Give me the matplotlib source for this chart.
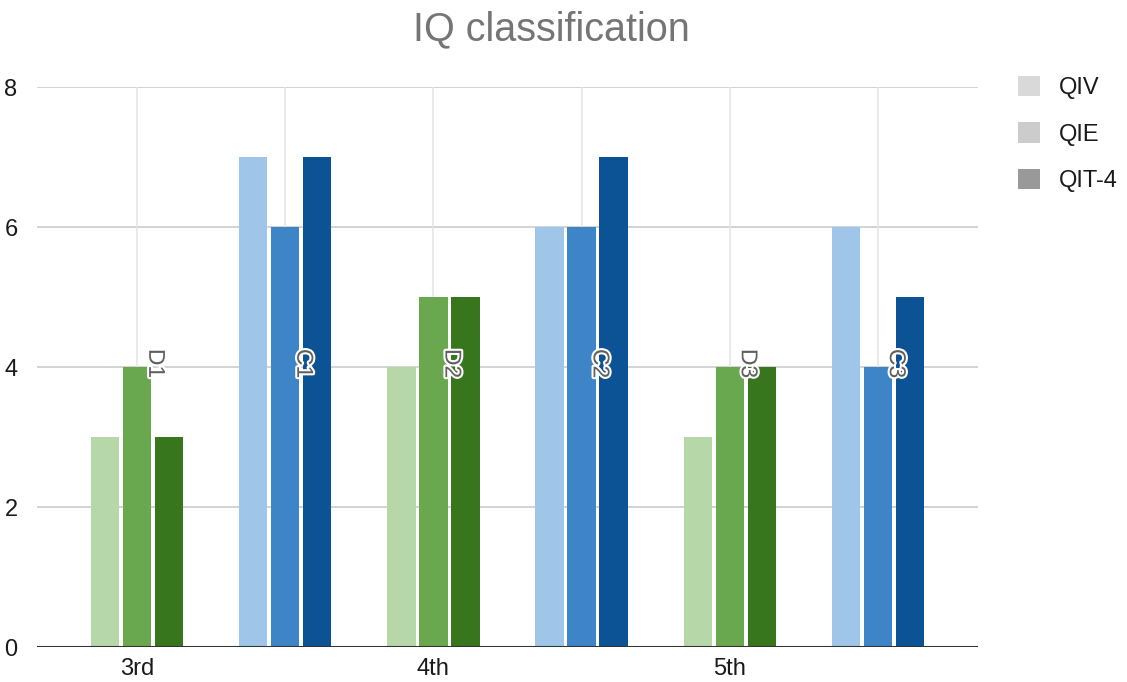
import matplotlib
matplotlib.use("Agg")
import matplotlib.pyplot as plt
import matplotlib.patheffects as pe
from matplotlib.patches import Patch
import numpy as np

plt.rcParams['font.family'] = ['Liberation Sans', 'DejaVu Sans']

groups = ["D1", "C1", "D2", "C2", "D3", "C3"]
series = ["QIV", "QIE", "QIT-4"]
qiv = [3, 7, 4, 6, 3, 6]
qie = [4, 6, 5, 6, 4, 4]
qit4 = [3, 7, 5, 7, 4, 5]
tick_labels = ["3rd", "4th", "5th"]

green = ["#b6d7a8", "#6aa84f", "#38761d"]
blue = ["#9fc5e8", "#3d85c6", "#0b5394"]
legend_colors = ["#d9d9d9", "#cccccc", "#999999"]

fig = plt.figure(figsize=(11.27, 6.82), dpi=100)
ax = fig.add_axes([37 / 1127, 35 / 682, (978 - 37) / 1127, (647 - 87) / 682])

x = np.arange(len(groups))
width = 0.19
step = 0.216
for i, vals in enumerate([qiv, qie, qit4]):
    cols = [green[i] if g.startswith("D") else blue[i] for g in groups]
    ax.bar(x + (i - 1) * step, vals, width, color=cols, zorder=3)

for xi, g in zip(x, groups):
    ax.text(xi + 0.125, 4.05, g, rotation=-90, ha="center", va="center",
            fontsize=16.5, color="#5f5f5f", zorder=5,
            path_effects=[pe.withStroke(linewidth=3, foreground="white")])

ax.set_xlim(-0.676, len(groups) - 1 + 0.676)
ax.set_ylim(0, 8)
ax.set_yticks([0, 2, 4, 6, 8])
ax.set_xticks(x[::2])
ax.set_xticklabels(tick_labels)
ax.tick_params(axis="both", length=0, labelsize=17, colors="#1a1a1a")
ax.tick_params(axis="y", pad=14)
ax.tick_params(axis="x", pad=8)

for y in [2, 4, 6, 8]:
    ax.axhline(y, color="#cccccc", lw=1.2, zorder=1)
for xi in x:
    ax.axvline(xi, color="#e6e6e6", lw=1.2, zorder=1)
ax.axhline(0, color="#333333", lw=1.5, zorder=4)
for s in ax.spines.values():
    s.set_visible(False)

fig.text(551 / 1127, 1 - 29 / 682, "IQ classification", ha="center", va="center",
         fontsize=28.5, color="#757575")

handles = [Patch(facecolor=c, edgecolor="none") for c in legend_colors]
fig.legend(handles, series, loc="upper left", bbox_to_anchor=(1018 / 1127, 1 - 76 / 682),
           frameon=False, fontsize=17, handlelength=0.95, handleheight=0.95,
           labelspacing=0.98, handletextpad=0.8, borderpad=0, borderaxespad=0,
           labelcolor="#1a1a1a")

fig.savefig("out.png", dpi=100, facecolor="white")
